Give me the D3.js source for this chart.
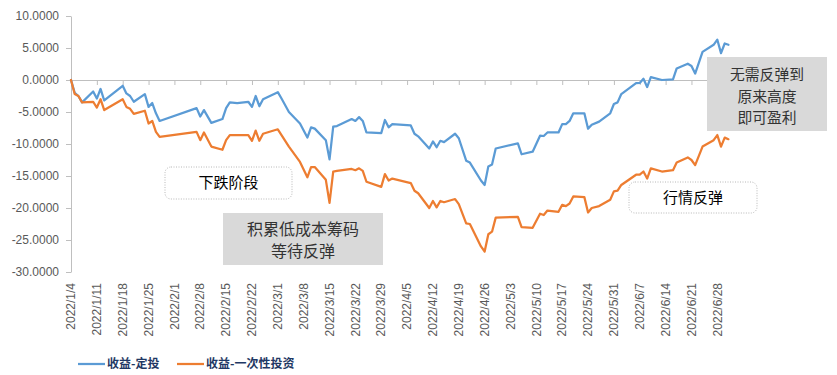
<!DOCTYPE html>
<html>
<head>
<meta charset="utf-8">
<script src="https://cdn.jsdelivr.net/npm/d3@7"></script>
<style>
  body { margin: 0; background: #fff; }
  svg { display: block; }
</style>
</head>
<body>
<svg id="chart" width="837" height="375"></svg>
<script>
// trading days (vertices only)
var dates = [
  "2022-01-04","2022-01-05","2022-01-06","2022-01-07","2022-01-10","2022-01-11","2022-01-12","2022-01-13",
  "2022-01-18","2022-01-19","2022-01-20","2022-01-21","2022-01-24","2022-01-25","2022-01-26","2022-01-27","2022-01-28",
  "2022-02-07","2022-02-08","2022-02-09","2022-02-11","2022-02-14","2022-02-15","2022-02-16","2022-02-18",
  "2022-02-21","2022-02-22","2022-02-23","2022-02-24","2022-02-25","2022-03-01","2022-03-02","2022-03-04",
  "2022-03-07","2022-03-09","2022-03-10","2022-03-11","2022-03-14","2022-03-15","2022-03-16","2022-03-17",
  "2022-03-21","2022-03-22","2022-03-23","2022-03-24","2022-03-25","2022-03-29","2022-03-30","2022-03-31","2022-04-01",
  "2022-04-06","2022-04-07","2022-04-08","2022-04-11","2022-04-12","2022-04-13","2022-04-14","2022-04-15",
  "2022-04-18","2022-04-19","2022-04-21","2022-04-22","2022-04-25","2022-04-26","2022-04-27","2022-04-28","2022-04-29",
  "2022-05-05","2022-05-06","2022-05-09","2022-05-11","2022-05-12","2022-05-13","2022-05-16","2022-05-17","2022-05-18","2022-05-19","2022-05-20",
  "2022-05-23","2022-05-24","2022-05-25","2022-05-27","2022-05-30","2022-05-31","2022-06-01","2022-06-02",
  "2022-06-06","2022-06-07","2022-06-08","2022-06-09","2022-06-10","2022-06-13","2022-06-16","2022-06-17",
  "2022-06-20","2022-06-21","2022-06-22","2022-06-24","2022-06-27","2022-06-28","2022-06-29","2022-06-30","2022-07-01"
];

// 收益-定投
var dcaValues = [
  0, -2.0, -2.5, -3.5, -1.8, -2.9, -1.4, -3.2,
  -0.9, -2.1, -2.5, -3.4, -2.2, -4.2, -3.6, -5.2, -6.4,
  -4.4, -5.7, -4.7, -6.7, -6.1, -4.4, -3.5, -3.6,
  -3.4, -4.2, -2.5, -4.1, -3.0, -1.9, -2.9, -5.0,
  -6.8, -9.0, -7.4, -7.6, -9.4, -12.4, -7.3, -7.2,
  -6.1, -6.4, -5.8, -6.4, -8.2, -8.3, -6.25, -7.4, -6.9,
  -7.1, -8.4, -8.8, -10.7, -9.6, -10.5, -9.5, -9.7,
  -8.4, -9.1, -12.6, -12.9, -15.7, -16.4, -13.5, -13.2, -10.7,
  -9.9, -11.6, -11.2, -8.7, -8.75, -8.2, -8.2, -6.9, -6.9, -6.4, -5.2,
  -5.2, -7.6, -7.0, -6.5, -5.2, -3.75, -3.5, -2.2,
  -0.5, -0.45, 0.2, -1.1, 0.45, 0.0, 0.1, 1.8,
  2.55, 2.2, 1.0, 4.4, 5.5, 6.3, 4.2, 5.7, 5.5
];

// 收益-一次性投资
var lumpValues = [
  0, -2.2, -2.5, -3.5, -3.4, -4.3, -3.0, -4.7,
  -3.0, -4.2, -4.5, -5.3, -4.8, -6.8, -6.4, -8.1, -8.9,
  -8.1, -9.4, -8.2, -10.4, -10.9, -9.4, -8.6, -8.6,
  -8.6, -9.5, -7.9, -9.5, -8.4, -7.7, -8.6, -10.4,
  -12.8, -15.2, -13.6, -13.6, -15.6, -19.2, -14.3, -14.2,
  -13.9, -14.1, -13.8, -14.2, -15.9, -16.7, -14.7, -15.7, -15.4,
  -16.1, -17.3, -17.7, -20.0, -18.9, -19.9, -18.9, -19.1,
  -18.6, -19.4, -22.4, -22.5, -26.0, -26.8, -24.1, -23.7, -21.5,
  -21.4, -23.0, -23.1, -20.9, -21.1, -20.4, -20.6, -19.5, -19.7, -19.3, -18.2,
  -18.3, -20.7, -20.0, -19.7, -18.7, -17.4, -17.3, -16.4,
  -14.8, -14.8, -14.3, -15.4, -13.8, -14.3, -14.1, -12.9,
  -12.1, -12.5, -13.3, -10.4, -9.4, -8.6, -10.4, -9.0, -9.25
];

var tickLabels = ["2022/1/4","2022/1/11","2022/1/18","2022/1/25","2022/2/1","2022/2/8","2022/2/15",
  "2022/2/22","2022/3/1","2022/3/8","2022/3/15","2022/3/22","2022/3/29","2022/4/5","2022/4/12",
  "2022/4/19","2022/4/26","2022/5/3","2022/5/10","2022/5/17","2022/5/24","2022/5/31","2022/6/7",
  "2022/6/14","2022/6/21","2022/6/28"];
var yTicks = [10, 5, 0, -5, -10, -15, -20, -25, -30];

var seriesNames = ["收益-定投", "收益-一次性投资"];
var seriesColors = ["#5b9bd5", "#ed7d31"];

var numFont = "'Liberation Sans', Arial, sans-serif";
var cjkFont = "'Noto Sans CJK SC', sans-serif";
var axisColor = "#bfbfbf";

var parseDate = d3.timeParse("%Y-%m-%d");
var parseTick = d3.timeParse("%Y/%m/%d");

var svg = d3.select("#chart");
svg.append("rect").attr("width", 837).attr("height", 375).attr("fill", "#fff");

var x = d3.scaleTime()
  .domain([parseDate("2022-01-04"), parseDate("2022-07-01")])
  .range([71, 728.4]);
var y = d3.scaleLinear().domain([-30, 10]).range([272, 16]);

// y axis
var yAxis = svg.append("g")
  .attr("transform", "translate(71,0)")
  .call(d3.axisLeft(y).tickValues(yTicks).tickFormat(function(d){ return d.toFixed(4); })
    .tickSize(5).tickSizeOuter(0).tickPadding(7));
yAxis.select(".domain").attr("stroke", axisColor);
yAxis.selectAll(".tick line").attr("stroke", axisColor);
yAxis.selectAll(".tick text")
  .style("font-family", numFont).style("font-size", "12px").attr("fill", "#595959");

// x axis sits on zero, labels go low
var tickDates = tickLabels.map(function(t){ return parseTick(t); });
var xAxis = svg.append("g")
  .attr("transform", "translate(0," + y(0) + ")")
  .call(d3.axisBottom(x).tickValues(tickDates).tickFormat("").tickSize(5).tickSizeOuter(0));
xAxis.select(".domain").attr("stroke", axisColor);
xAxis.selectAll(".tick line").attr("stroke", axisColor);

svg.append("g").selectAll("text")
  .data(tickDates)
  .enter().append("text")
  .attr("transform", function(d, i){ return "translate(" + x(d) + ",283) rotate(-90)"; })
  .attr("text-anchor", "end")
  .attr("dy", "0.35em")
  .style("font-family", numFont).style("font-size", "12px").attr("fill", "#595959")
  .text(function(d, i){ return tickLabels[i]; });

// lines
var rows = dates.map(function(d, i){
  return { date: parseDate(d), dca: dcaValues[i], lump: lumpValues[i] };
});
var keys = ["dca", "lump"];
keys.forEach(function(k, i){
  var line = d3.line().x(function(d){ return x(d.date); }).y(function(d){ return y(d[k]); });
  svg.append("path").datum(rows)
    .attr("d", line)
    .attr("fill", "none")
    .attr("stroke", seriesColors[i])
    .attr("stroke-width", 2.25)
    .attr("stroke-linejoin", "round")
    .attr("stroke-linecap", "round");
});

// annotations
function dottedBox(x0, y0, w, h, label) {
  svg.append("rect").attr("x", x0).attr("y", y0).attr("width", w).attr("height", h)
    .attr("rx", 6).attr("fill", "#fff").attr("stroke", "#a6a6a6")
    .attr("stroke-width", 0.8).attr("stroke-dasharray", "1,1.5");
  svg.append("text").attr("x", x0 + w/2).attr("y", y0 + h/2).attr("dy", "0.35em")
    .attr("text-anchor", "middle").style("font-family", cjkFont).style("font-size", "15px")
    .attr("fill", "#000").text(label);
}
function grayBox(x0, y0, w, h, lines, cx, firstY, step, size) {
  svg.append("rect").attr("x", x0).attr("y", y0).attr("width", w).attr("height", h)
    .attr("fill", "#d9d9d9");
  lines.forEach(function(t, i){
    svg.append("text").attr("x", cx).attr("y", firstY + i*step).attr("dy", "0.35em")
      .attr("text-anchor", "middle").style("font-family", cjkFont).style("font-size", size + "px")
      .attr("fill", "#333").text(t);
  });
}
dottedBox(165, 167, 127, 32, "下跌阶段");
dottedBox(629, 182, 128, 31, "行情反弹");
grayBox(223, 213, 160, 52, ["积累低成本筹码", "等待反弹"], 303, 229, 22, 16);
grayBox(707, 57, 120, 74, ["无需反弹到", "原来高度", "即可盈利"], 767, 75, 21.5, 14.8);

// legend
var legend = svg.append("g");
var legendX = [78, 177];
seriesNames.forEach(function(n, i){
  legend.append("line").attr("x1", legendX[i]).attr("x2", legendX[i] + 27)
    .attr("y1", 364).attr("y2", 364)
    .attr("stroke", seriesColors[i]).attr("stroke-width", 2.25);
  legend.append("text").attr("x", legendX[i] + 29).attr("y", 364).attr("dy", "0.35em")
    .style("font-family", cjkFont).style("font-size", "12px").style("font-weight", "bold")
    .attr("fill", "#1f3864").text(n);
});
</script>
</body>
</html>
